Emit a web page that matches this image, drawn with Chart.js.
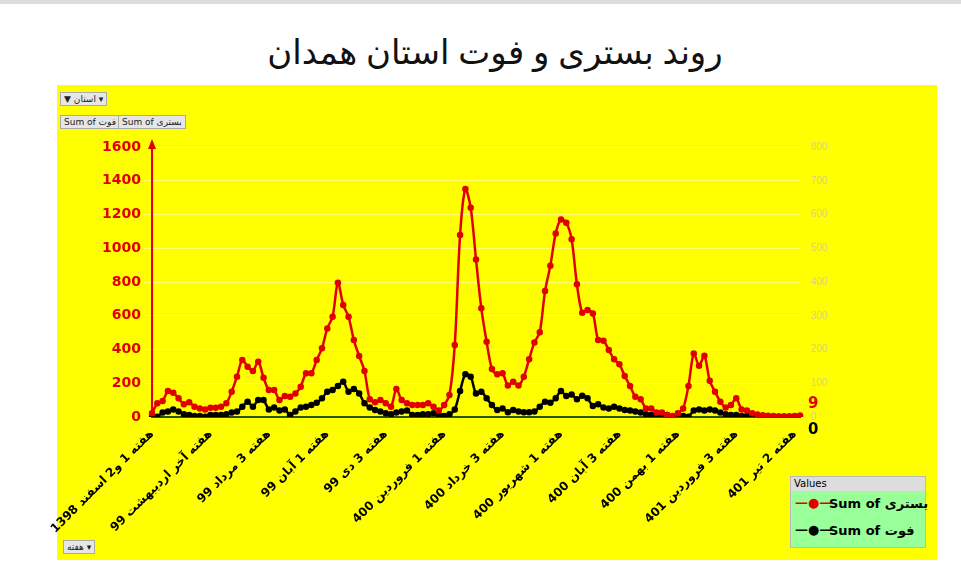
<!DOCTYPE html>
<html><head><meta charset="utf-8">
<script src="https://cdn.jsdelivr.net/npm/chart.js@4"></script>
<style>
body{margin:0;width:961px;height:566px;background:#fff;overflow:hidden;position:relative;font-family:"DejaVu Sans",sans-serif}
#topline{position:absolute;left:0;top:0;width:961px;height:4px;background:#ddd}
#title{position:absolute;left:0;top:28px;width:990px;text-align:center;font-size:34px;color:#111;font-family:"Noto Sans","DejaVu Sans",sans-serif}
#yellow{position:absolute;left:57px;top:85px;width:880px;height:475px;background:#ffff00}
canvas{position:absolute;left:0;top:0}
.btn{position:absolute;background:#e6e6e6;border:1px solid #aaa;font-size:9px;color:#222;padding:0 3px;line-height:12px;height:12px;white-space:nowrap}
#legend{position:absolute;left:790px;top:476px;width:134px;height:70px;background:#99ff99;border:1px solid #bbb}
#legend .hd{background:#ddd;font-size:10px;padding:1px 3px;height:12px}
#legend .row{position:relative;height:27px;font-weight:bold;font-size:13px;white-space:nowrap}
</style></head><body>
<div id="topline"></div>
<div id="title">روند بستری و فوت استان همدان</div>
<div id="yellow"></div>
<div class="btn" style="left:60px;top:92px">▼ استان ▾</div>
<div class="btn" style="left:60px;top:115px">Sum of فوت</div>
<div class="btn" style="left:118px;top:115px">Sum of بستری</div>
<div class="btn" style="left:63px;top:540px">هفته ▾</div>
<div id="legend"><div class="hd">Values</div>
<div class="row"><span style="position:absolute;left:4px;top:4px;color:#e00000;font-size:13px">—●—</span><span style="position:absolute;left:38px;top:5px">Sum of بستری</span></div>
<div class="row"><span style="position:absolute;left:4px;top:4px;color:#000;font-size:13px">—●—</span><span style="position:absolute;left:38px;top:5px">Sum of فوت</span></div>
</div>
<canvas id="c" width="961" height="566"></canvas>
<script>
const tickLabels=["هفته 1 و2 اسفند 1398","هفته آخر اردیبهشت 99","هفته 3 مرداد 99","هفته 1 آبان 99","هفته 3 دی 99","هفته 1 فروردین 400","هفته 3 خرداد 400","هفته 1 شهریور 400","هفته 3 آبان 400","هفته 1 بهمن 400","هفته 3 فروردین 401","هفته 2 تیر 401"];
const hospitalized=[22,81,95,154,144,111,75,87,61,51,45,55,55,61,81,150,239,338,298,273,328,233,160,160,101,124,120,140,180,259,259,338,407,525,594,796,664,594,456,361,273,105,87,101,81,61,166,101,81,71,71,71,81,61,38,71,130,427,1078,1351,1240,934,644,446,284,253,259,186,209,186,239,342,442,502,747,897,1088,1171,1151,1053,786,618,634,614,456,452,397,342,312,243,184,120,105,51,51,26,26,12,6,22,51,184,377,304,363,215,150,91,57,71,111,45,38,22,15,10,8,6,5,5,5,6,9];
const deaths=[0,2,26,32,45,32,16,12,6,6,2,12,12,12,16,26,32,61,91,61,101,101,45,57,38,45,12,32,57,61,71,85,111,150,160,184,209,150,166,140,81,57,41,32,22,16,26,32,38,12,12,16,16,22,12,6,16,45,154,253,239,140,150,111,71,41,51,28,41,32,28,28,32,61,91,85,111,154,124,134,105,126,111,65,75,57,51,61,51,41,38,32,26,16,12,0,6,12,2,0,6,2,38,45,38,45,38,26,16,12,12,6,6,2,0,0,0,0,0,0,0,0,0];
const labels=hospitalized.map((v,i)=>i%11===0&&tickLabels[i/11]?tickLabels[i/11]:'');
const extras={id:'extras',afterDraw(ch){
  const c=ch.ctx,a=ch.chartArea;
  c.save();c.fillStyle='#e00000';c.beginPath();c.moveTo(a.left-4,a.top+2);c.lineTo(a.left+4,a.top+2);c.lineTo(a.left,a.top-8);c.fill();
  const m0=ch.getDatasetMeta(0).data, m1=ch.getDatasetMeta(1).data;
  const p0=m0[m0.length-1],p1=m1[m1.length-1];
  c.font='bold 15px "DejaVu Sans"';c.textAlign='left';c.textBaseline='middle';
  c.fillStyle='#e00000';c.fillText(String(hospitalized[hospitalized.length-1]),p0.x+8,p0.y-11);
  c.fillStyle='#000';c.fillText(String(deaths[deaths.length-1]),p1.x+8,p1.y+13);
  c.restore();}};
new Chart(document.getElementById('c'),{type:'line',
 data:{labels,datasets:[
  {data:hospitalized,borderColor:'#e00000',backgroundColor:'#e00000',borderWidth:2.5,pointRadius:2,tension:0.3,yAxisID:'y'},
  {data:deaths,borderColor:'#000',backgroundColor:'#000',borderWidth:2.5,pointRadius:2,tension:0.3,yAxisID:'y'}]},
 options:{responsive:false,animation:false,
  layout:{padding:{left:57,right:131,top:147,bottom:0}},
  plugins:{legend:{display:false},tooltip:{enabled:false}},
  scales:{
   x:{grid:{display:false},border:{color:'#2a5a00',width:2},afterFit(s){s.height=149;},
      ticks:{autoSkip:false,maxRotation:45,minRotation:45,padding:2,color:'#000',font:{weight:'bold',size:12,family:'DejaVu Sans'},callback(v,i){return labels[i];}}},
   y:{min:0,max:1600,afterFit(s){s.width=95;},border:{color:'#e00000',width:2},
      grid:{color:'rgba(255,255,255,0.45)'},ticks:{stepSize:200,color:'#e00000',font:{weight:'bold',size:14,family:'DejaVu Sans'},callback:v=>String(v)}},
   y2:{position:'right',min:0,max:800,afterFit(s){s.width=30;},border:{display:false},grid:{display:false},
      ticks:{stepSize:100,color:'#d9d07a',font:{size:10}}}
  }},plugins:[extras]});
</script></body></html>
